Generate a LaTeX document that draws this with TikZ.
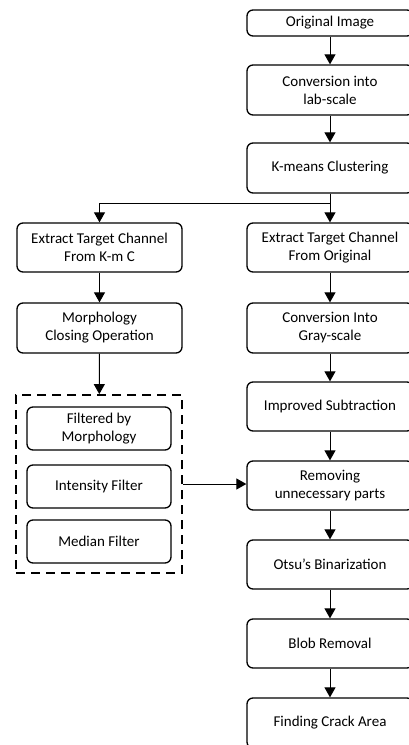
\documentclass[tikz,border=0pt]{standalone}
\usepackage{fontspec}
\setmainfont{Carlito}
\usetikzlibrary{arrows.meta}
\begin{document}
\begin{tikzpicture}[x=1pt,y=-1pt,
  proc/.style={draw,line width=1.3pt,rounded corners=6pt,align=center,
    font=\fontsize{15}{18}\selectfont,inner sep=0pt},
  rproc/.style={proc,minimum width=166pt,minimum height=50pt},
  lproc/.style={proc,minimum width=165pt,minimum height=50pt},
  fproc/.style={proc,minimum width=144pt,minimum height=43pt},
  arr/.style={line width=1pt,-{Triangle[width=11pt,length=10pt]}}]
\path[use as bounding box,clip] (0,0) rectangle (409,745);
\node[rproc,minimum height=26pt] (orig) at (330,23) {Original Image};
\node[rproc] (lab) at (330,90) {Conversion into\\lab-scale};
\node[rproc] (kmeans) at (330,168) {K-means Clustering};
\node[rproc,minimum height=49pt] (extO) at (330,247.5) {Extract Target Channel\\From Original};
\node[rproc] (gray) at (330,328) {Conversion Into\\Gray-scale};
\node[rproc,minimum height=49pt] (sub) at (330,406.5) {Improved Subtraction};
\node[rproc,minimum height=49pt] (rem) at (330,485.5) {Removing\\unnecessary parts};
\node[rproc,minimum height=49pt] (otsu) at (330,564.5) {Otsu’s Binarization};
\node[rproc,minimum height=49pt] (blob) at (330,643.5) {Blob Removal};
\node[rproc] (crack) at (330,723) {Finding Crack Area};
\node[lproc,minimum height=49pt] (extK) at (99.5,247.5) {Extract Target Channel\\From K-m C};
\node[lproc] (morph) at (99.5,328) {Morphology\\Closing Operation};
\node[draw,line width=1.8pt,dash pattern=on 9pt off 6pt,minimum width=166pt,
  minimum height=178pt,inner sep=0pt] (grp) at (99,484) {};
\node[fproc] (filt) at (99,428.5) {Filtered by\\Morphology};
\node[fproc] (inten) at (99,486.5) {Intensity Filter};
\node[fproc] (median) at (99,541.5) {Median Filter};
\coordinate (split) at (330,203);
\draw[arr] (orig) -- (lab);
\draw[arr] (lab) -- (kmeans);
\draw[line width=1pt] (kmeans) -- (split);
\draw[arr] (split) -| (extK);
\draw[arr] (split) -- (extO);
\draw[arr] (extK) -- (morph);
\draw[arr] (morph) -- (grp);
\draw[arr] (extO) -- (gray);
\draw[arr] (gray) -- (sub);
\draw[arr] (sub) -- (rem);
\draw[arr] (grp.east) -- (grp.east -| rem.west);
\draw[arr] (rem) -- (otsu);
\draw[arr] (otsu) -- (blob);
\draw[arr] (blob) -- (crack);
\end{tikzpicture}
\end{document}
